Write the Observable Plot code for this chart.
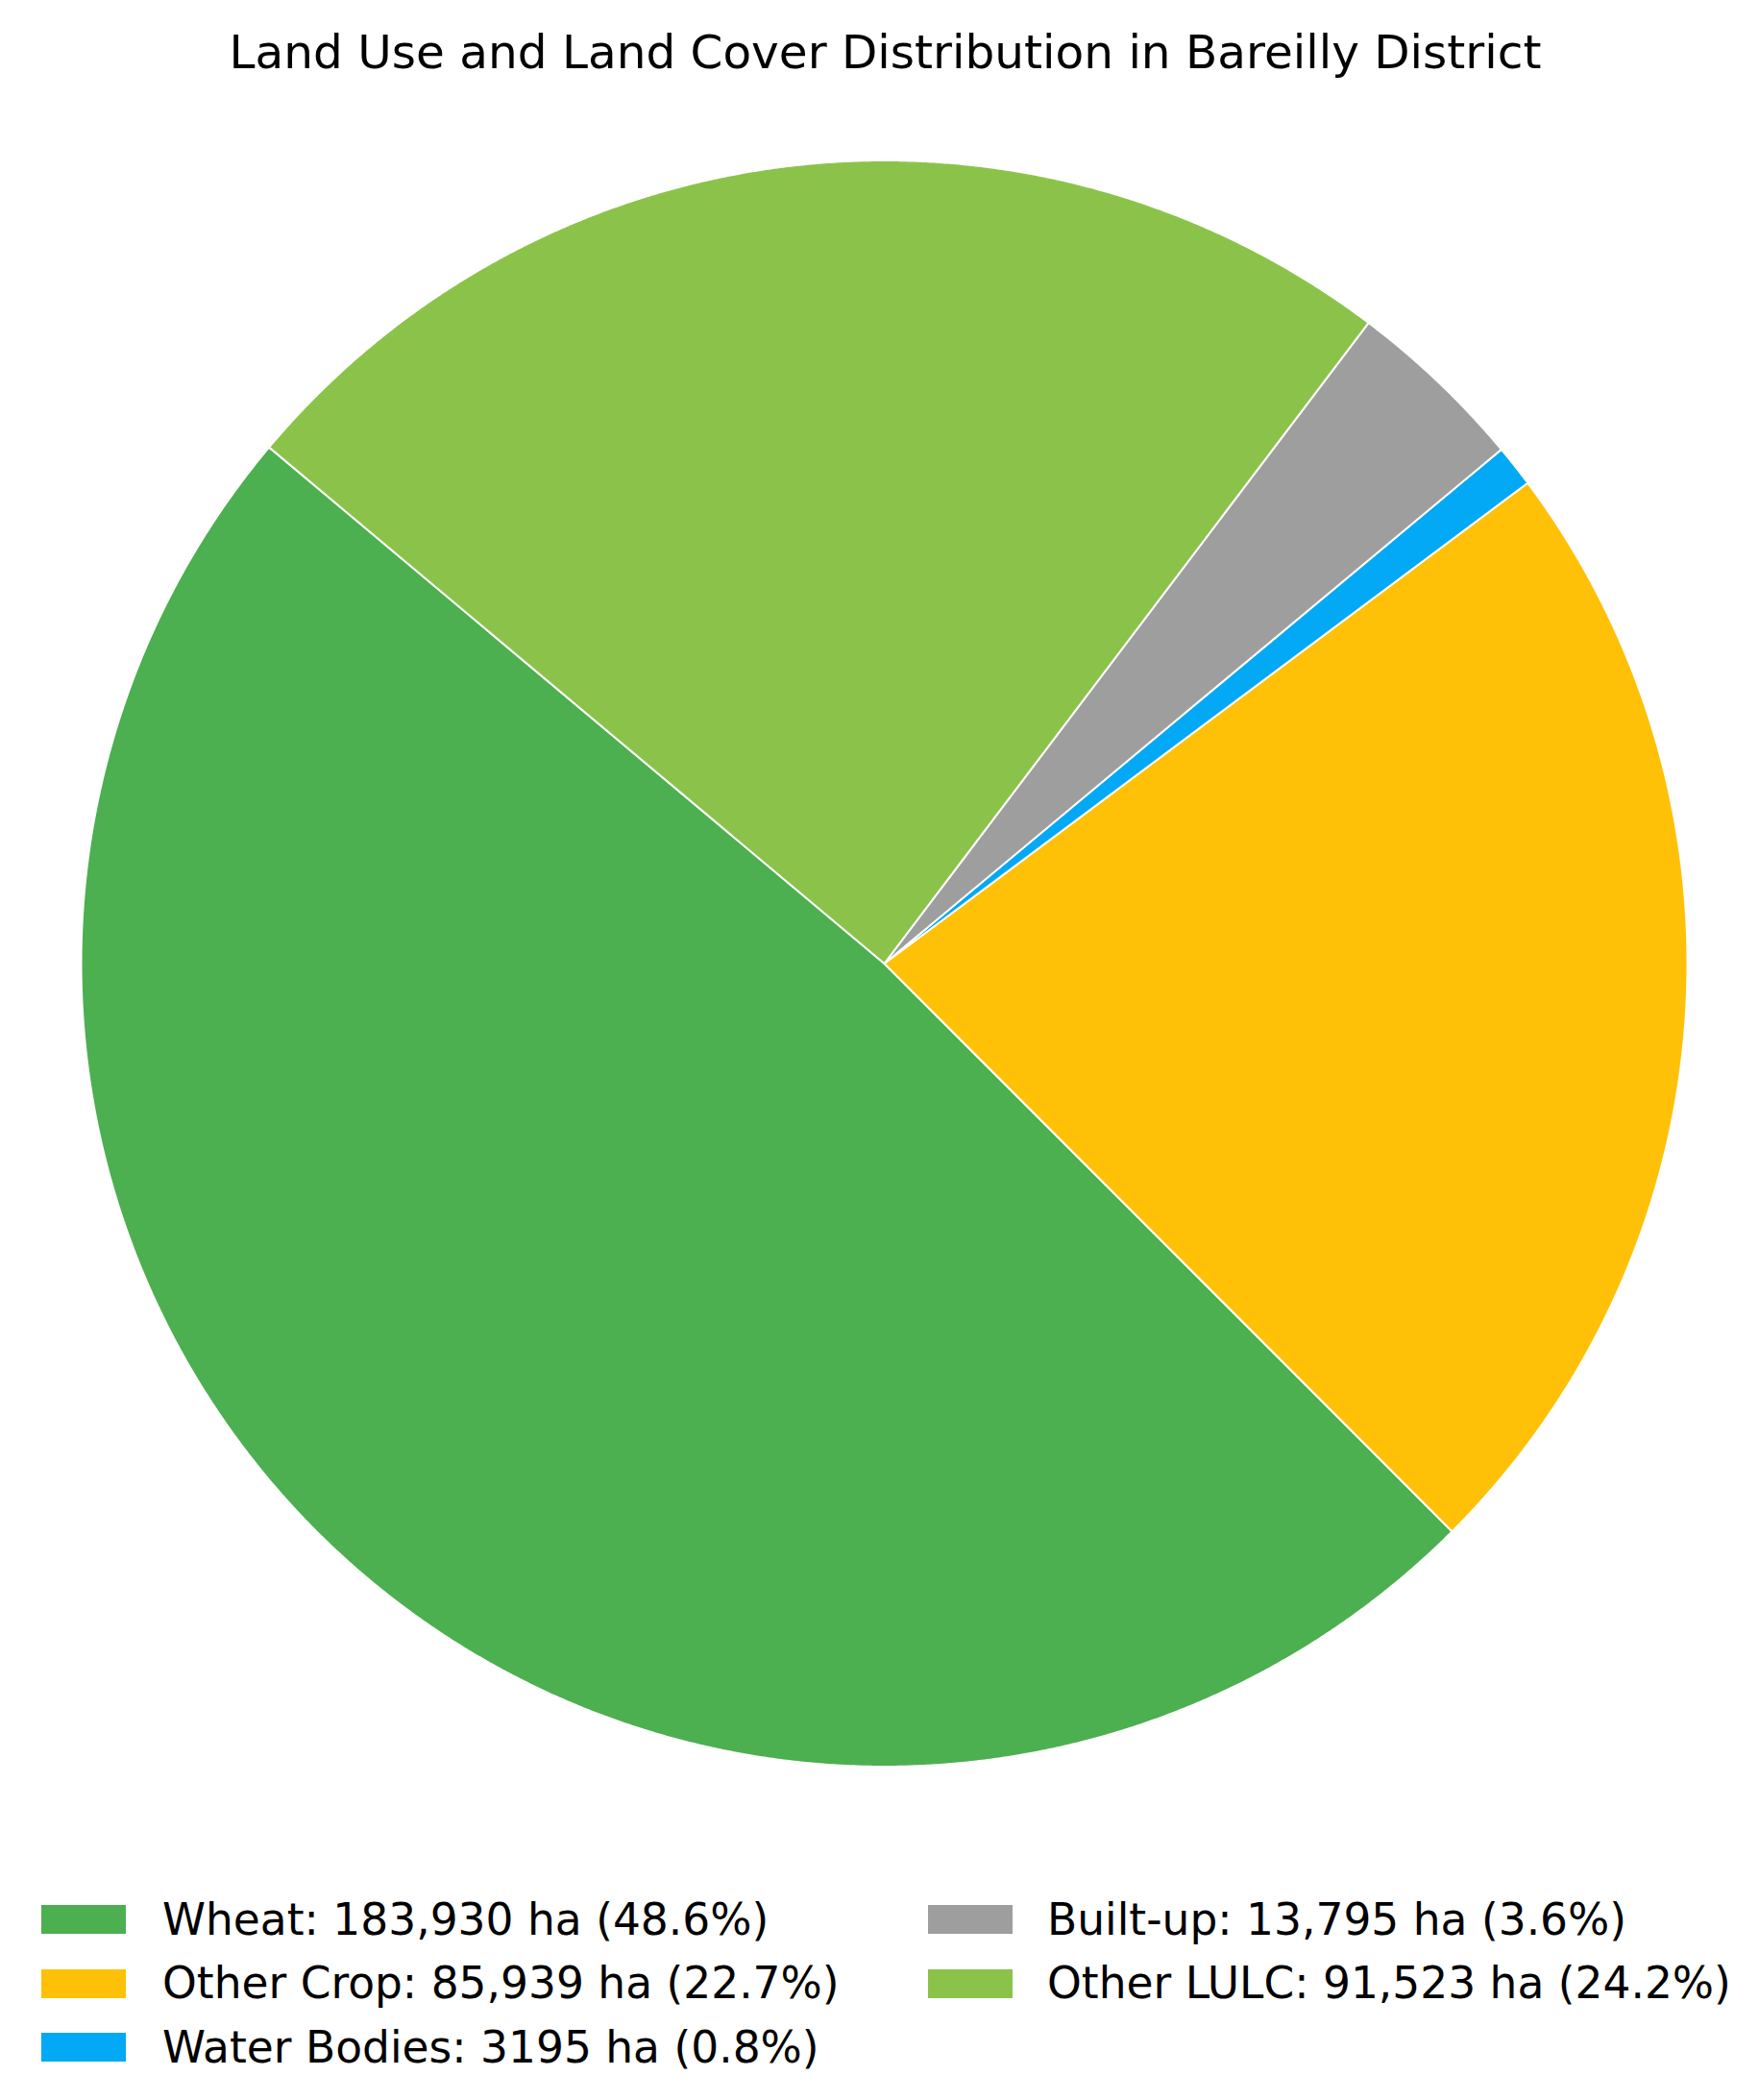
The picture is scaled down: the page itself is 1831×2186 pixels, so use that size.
<!DOCTYPE html>
<html>
<head>
<meta charset="utf-8">
<script src="https://cdn.jsdelivr.net/npm/d3@7"></script>
<script src="https://cdn.jsdelivr.net/npm/@observablehq/plot@0.6"></script>
<style>
  html, body { margin: 0; padding: 0; background: #ffffff; overflow: hidden; }
  #root { position: relative; width: 1831px; height: 2186px; font-family: "DejaVu Sans", sans-serif; color: #000; }
  #title { position: absolute; left: 6px; top: 30px; width: 1831px; text-align: center; font-size: 48.5px; line-height: 1; white-space: nowrap; }
  #chart { position: absolute; left: 0; top: 110px; }
  .swatch { position: absolute; width: 88px; height: 30px; }
  .label { position: absolute; font-size: 45.5px; line-height: 1; white-space: nowrap; }
</style>
</head>
<body>
<div id="root">
  <div id="title">Land Use and Land Cover Distribution in Bareilly District</div>
  <div id="chart"></div>
  <div id="legend"></div>
</div>
<script>
// ---- data ----
const categories = ["Wheat", "Other Crop", "Water Bodies", "Built-up", "Other LULC"];
const areas = [183930, 85939, 3195, 13795, 91523];          // hectares
const areaLabels = ["183,930", "85,939", "3195", "13,795", "91,523"];
const percentLabels = ["48.6%", "22.7%", "0.8%", "3.6%", "24.2%"];
const colors = ["#4CAF50", "#FFC107", "#03A9F4", "#9E9E9E", "#8BC34A"];

// ---- slice geometry derived from the values (counter-clockwise from 140°) ----
const startAngle = 140;
const total = d3.sum(areas);
const points = [];
let acc = 0;
categories.forEach((name, i) => {
  const a0 = startAngle + 360 * acc / total;
  acc += areas[i];
  const a1 = startAngle + 360 * acc / total;
  const n = Math.max(2, Math.ceil((a1 - a0) / 0.2));
  for (let k = 0; k <= n; k++) {
    const t = (a0 + (a1 - a0) * k / n) * Math.PI / 180;
    points.push({name, x: Math.cos(t), y: Math.sin(t)});
  }
});

const chart = Plot.plot({
  width: 1831,
  height: 1790,
  margin: 0,
  style: {background: "#ffffff"},
  x: {domain: [-1.1011, 1.0891], axis: null},
  y: {domain: [-1.0730, 1.0682], axis: null},
  color: {domain: categories, range: colors},
  marks: [
    Plot.area(points, {
      x1: "x", y1: "y", x2: 0, y2: 0,
      z: "name", fill: "name",
      stroke: "#ffffff", strokeWidth: 2, strokeLinejoin: "round",
      curve: "linear"
    })
  ]
});
document.getElementById("chart").appendChild(chart);

// ---- legend (column-major, 3 rows) ----
const legend = document.getElementById("legend");
const colX = [43, 966];
const textX = [169, 1090];
const rowY = [1983, 2049.5, 2116];
categories.forEach((name, i) => {
  const col = Math.floor(i / 3), row = i % 3;
  const sw = document.createElement("div");
  sw.className = "swatch";
  sw.style.left = colX[col] + "px";
  sw.style.top = rowY[row] + "px";
  sw.style.background = colors[i];
  legend.appendChild(sw);
  const lb = document.createElement("div");
  lb.className = "label";
  lb.style.left = textX[col] + "px";
  lb.style.top = (rowY[row] + 31 - 0.846 * 45.5) + "px";
  lb.textContent = `${name}: ${areaLabels[i]} ha (${percentLabels[i]})`;
  legend.appendChild(lb);
});
</script>
</body>
</html>
